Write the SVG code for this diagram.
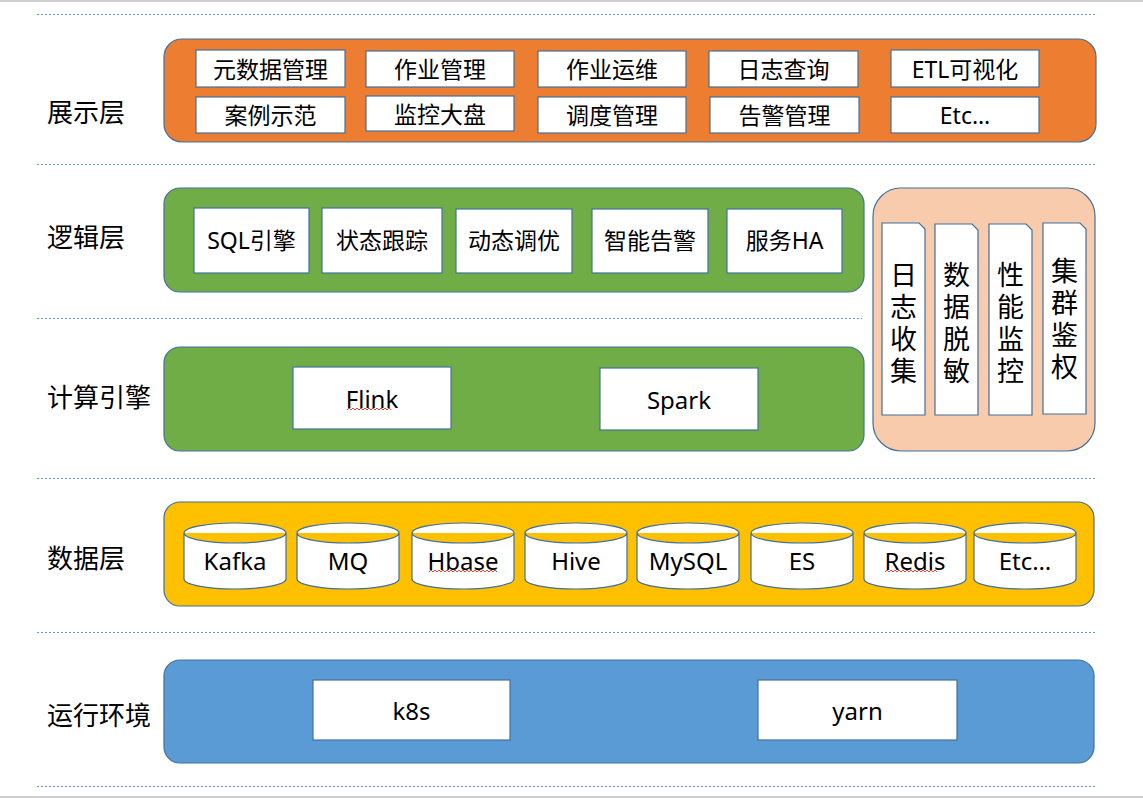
<svg xmlns="http://www.w3.org/2000/svg" width="1143" height="798" viewBox="0 0 1143 798">
<style>
.sep{stroke:#5B9BD5;stroke-width:1;stroke-dasharray:2 2;fill:none}
.frame{stroke:#cfcfcf;stroke-width:2}
.layer{stroke:#41719C;stroke-width:1.2}
.box{fill:#fff;stroke:#41719C;stroke-width:1.2}
.t{font-family:"Noto Sans","Noto Sans CJK SC",sans-serif;fill:#000;text-anchor:middle;dominant-baseline:central}
.lbl{font-family:"Noto Sans CJK SC","Noto Sans",sans-serif;font-size:26px;fill:#000;dominant-baseline:central}
.c{font-size:23px}
.d{font-size:24px}
.v{font-size:27px;font-family:"Noto Sans CJK SC",sans-serif;writing-mode:vertical-rl;letter-spacing:5px;text-orientation:upright}
.wavy{stroke:#E8472F;stroke-width:1;fill:none}
</style>
<rect width="1143" height="798" fill="#fff"/>
<g id="frame">
<line class="frame" x1="0" y1="1" x2="1143" y2="1"/>
<line class="frame" x1="0" y1="797" x2="1143" y2="797"/>
<line class="sep" x1="37" y1="14.5" x2="1096" y2="14.5"/>
<line class="sep" x1="37" y1="164.5" x2="1096" y2="164.5"/>
<line class="sep" x1="37" y1="318.5" x2="862" y2="318.5"/>
<line class="sep" x1="37" y1="478.5" x2="1096" y2="478.5"/>
<line class="sep" x1="37" y1="632.5" x2="1096" y2="632.5"/>
<line class="sep" x1="37" y1="786.5" x2="1096" y2="786.5"/>
</g>
<g id="labels">
<text class="lbl" x="47" y="110">展示层</text>
<text class="lbl" x="47" y="235">逻辑层</text>
<text class="lbl" x="47" y="395">计算引擎</text>
<text class="lbl" x="47" y="556">数据层</text>
<text class="lbl" x="47" y="713">运行环境</text>
</g>
<g id="presentation">
<rect class="layer" x="164" y="39" width="932" height="103" rx="18" fill="#ED7D31"/>
<rect class="box" x="196" y="50" width="149" height="37"/><text class="t c" x="270.5" y="69">元数据管理</text>
<rect class="box" x="366" y="51" width="148" height="36"/><text class="t c" x="440" y="69">作业管理</text>
<rect class="box" x="538" y="51" width="148" height="36"/><text class="t c" x="612" y="69">作业运维</text>
<rect class="box" x="709" y="51" width="149" height="36"/><text class="t c" x="783.5" y="69">日志查询</text>
<rect class="box" x="891" y="50" width="148" height="37"/><text class="t c" x="965" y="69">ETL可视化</text>
<rect class="box" x="196" y="97" width="149" height="36"/><text class="t c" x="270.5" y="115">案例示范</text>
<rect class="box" x="366" y="96" width="148" height="35"/><text class="t c" x="440" y="114">监控大盘</text>
<rect class="box" x="538" y="97" width="148" height="36"/><text class="t c" x="612" y="115">调度管理</text>
<rect class="box" x="710" y="97" width="149" height="36"/><text class="t c" x="784.5" y="115">告警管理</text>
<rect class="box" x="891" y="97" width="148" height="36"/><text class="t c" x="965" y="115">Etc…</text>
</g>
<g id="logic">
<rect class="layer" x="164" y="188" width="700" height="104" rx="16" fill="#70AD47"/>
<rect class="box" x="194" y="208" width="115" height="65"/><text class="t c" x="251.5" y="240">SQL引擎</text>
<rect class="box" x="322" y="208" width="120" height="65"/><text class="t c" x="382" y="240">状态跟踪</text>
<rect class="box" x="456" y="209" width="116" height="64"/><text class="t c" x="514" y="240">动态调优</text>
<rect class="box" x="592" y="209" width="116" height="64"/><text class="t c" x="650" y="240">智能告警</text>
<rect class="box" x="727" y="209" width="115" height="64"/><text class="t c" x="784.5" y="240">服务HA</text>
</g>
<g id="compute">
<rect class="layer" x="164" y="347" width="700" height="104" rx="16" fill="#70AD47"/>
<rect class="box" x="293" y="367" width="158" height="62"/><text class="t d" x="372" y="398">Flink</text>
<rect class="box" x="600" y="368" width="158" height="62"/><text class="t d" x="679" y="399">Spark</text>
</g>
<g id="crosscut">
<rect class="layer" x="873" y="188" width="222" height="263" rx="28" fill="#F8CBAD"/>
<path class="box" d="M882,223 H919 L925,229 V415 H882 Z"/>
<path class="box" d="M935,224 H972 L978,230 V415 H935 Z"/>
<path class="box" d="M989,224 H1026 L1032,230 V415 H989 Z"/>
<path class="box" d="M1043,223 H1080 L1086,229 V414 H1043 Z"/>
<text class="t v" x="903.5" y="325">日志收集</text>
<text class="t v" x="956.5" y="325">数据脱敏</text>
<text class="t v" x="1010.5" y="325">性能监控</text>
<text class="t v" x="1064.5" y="321">集群鉴权</text>
</g>
<defs>
<path id="cyl" class="box" d="M0,10 A51,10 0 0 1 102,10 V56 A51,10 0 0 1 0,56 Z M0,10 A51,10 0 0 0 102,10"/>
</defs>
<g id="data">
<rect class="layer" x="164" y="502" width="930" height="104" rx="16" fill="#FFC000"/>
<use href="#cyl" x="184" y="523"/><text class="t d" x="235" y="560">Kafka</text>
<use href="#cyl" x="297" y="523"/><text class="t d" x="348" y="560">MQ</text>
<use href="#cyl" x="412" y="523"/><text class="t d" x="463" y="560">Hbase</text>
<use href="#cyl" x="525" y="523"/><text class="t d" x="576" y="560">Hive</text>
<use href="#cyl" x="637" y="523"/><text class="t d" x="688" y="560">MySQL</text>
<use href="#cyl" x="751" y="523"/><text class="t d" x="802" y="560">ES</text>
<use href="#cyl" x="864" y="523"/><text class="t d" x="915" y="560">Redis</text>
<use href="#cyl" x="974" y="523"/><text class="t d" x="1025" y="560">Etc…</text>
</g>
<g id="runtime">
<rect class="layer" x="164" y="660" width="930" height="103" rx="16" fill="#5B9BD5"/>
<rect class="box" x="313" y="680" width="197" height="60"/><text class="t d" x="411.5" y="710">k8s</text>
<rect class="box" x="758" y="680" width="199" height="60"/><text class="t d" x="857.5" y="710">yarn</text>
</g>
<g id="spellmarks">
<path class="wavy" d="M347,410 l2,-2 l2,2 l2,-2 l2,2 l2,-2 l2,2 l2,-2 l2,2 l2,-2 l2,2 l2,-2 l2,2 l2,-2 l2,2 l2,-2 l2,2 l2,-2 l2,2 l2,-2 l2,2 l2,-2 l2,2"/>
<path class="wavy" d="M429,572 l2,-2 l2,2 l2,-2 l2,2 l2,-2 l2,2 l2,-2 l2,2 l2,-2 l2,2 l2,-2 l2,2 l2,-2 l2,2 l2,-2 l2,2 l2,-2 l2,2 l2,-2 l2,2 l2,-2 l2,2 l2,-2 l2,2 l2,-2 l2,2 l2,-2 l2,2 l2,-2 l2,2 l2,-2 l2,2 l2,-2 l2,2"/>
<path class="wavy" d="M885,572 l2,-2 l2,2 l2,-2 l2,2 l2,-2 l2,2 l2,-2 l2,2 l2,-2 l2,2 l2,-2 l2,2 l2,-2 l2,2 l2,-2 l2,2 l2,-2 l2,2 l2,-2 l2,2 l2,-2 l2,2 l2,-2 l2,2 l2,-2 l2,2"/>
</g>
</svg>
